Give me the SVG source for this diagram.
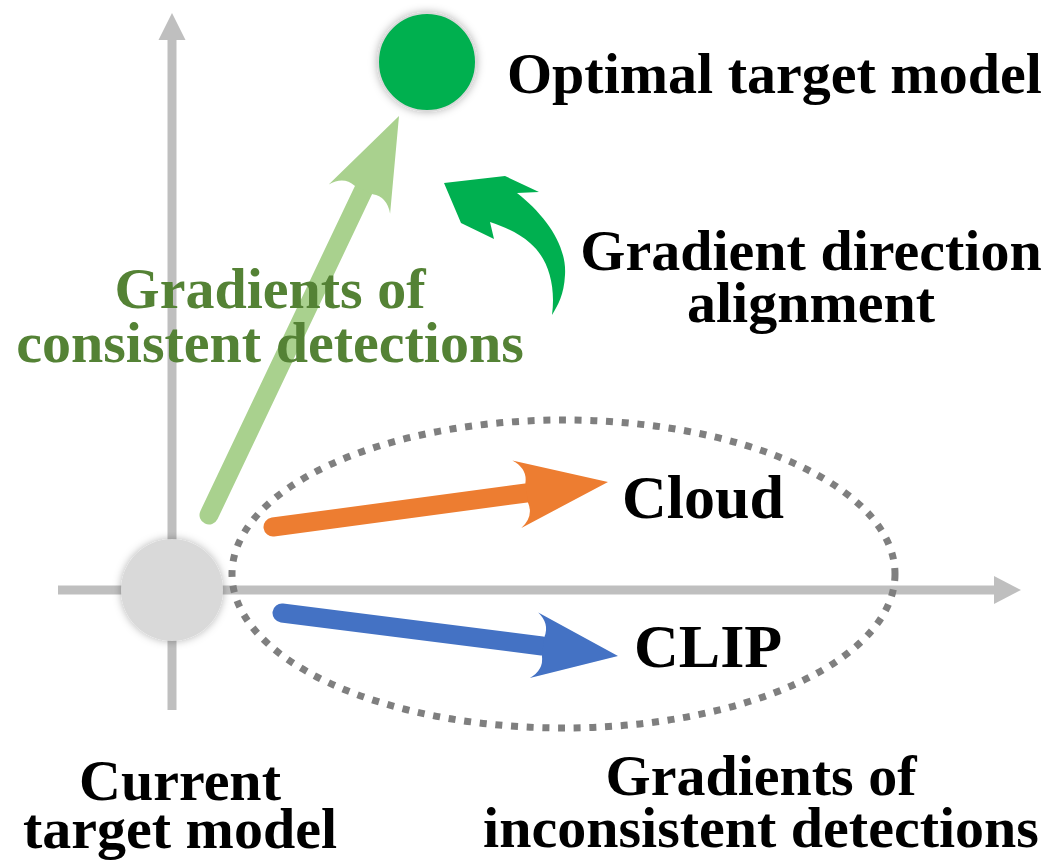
<svg xmlns="http://www.w3.org/2000/svg" width="1055" height="861" viewBox="0 0 1055 861">
  <style>
    .t { font-family: "Liberation Serif", "Times New Roman", serif; font-weight: bold; fill: #000; }
    .g { fill: #548235; }
    .axis { stroke: #bfbfbf; stroke-width: 9; fill: none; }
    .axhead { fill: #bfbfbf; }
    .shaft { fill: none; stroke-width: 19; stroke-linecap: round; }
  </style>
  <defs>
    <filter id="shadow" x="-30%" y="-30%" width="160%" height="160%">
      <feDropShadow dx="0" dy="0" stdDeviation="4" flood-color="#000" flood-opacity="0.3"/>
    </filter>
    <path id="head" d="M0,0 L-92,-34 Q-78,-24 -82,-10 L-82,10 Q-78,24 -92,34 Z"/>
  </defs>
  <rect width="1055" height="861" fill="#fff"/>

  <g id="axes">
    <line class="axis" x1="172" y1="710" x2="172" y2="38"/>
    <polygon class="axhead" points="172,13 158.5,40 185.5,40"/>
    <line class="axis" x1="58" y1="590" x2="997" y2="590"/>
    <polygon class="axhead" points="1021,590 994,576 994,604"/>
  </g>

  <g id="inconsistent-group">
    <ellipse cx="563.5" cy="574" rx="331.5" ry="154" fill="none" stroke="#7f7f7f" stroke-width="7" stroke-dasharray="7 8.7"/>
  </g>

  <g id="current-model">
    <circle cx="172" cy="590" r="51" fill="#d9d9d9" filter="url(#shadow)"/>
  </g>

  <g id="optimal-model">
    <circle cx="427" cy="62" r="49" fill="#00b050" stroke="#d9d9d9" stroke-width="2" filter="url(#shadow)"/>
  </g>

  <g id="connectors">
    <g id="consistent-arrow">
      <line class="shaft" stroke="#a9d18e" x1="209" y1="515" x2="364" y2="189"/>
      <use href="#head" fill="#a9d18e" transform="translate(399,116) rotate(-64.5)"/>
    </g>
    <g id="cloud-arrow">
      <line class="shaft" stroke="#ed7d31" x1="273" y1="527" x2="530" y2="492.5"/>
      <use href="#head" fill="#ed7d31" transform="translate(608,482) rotate(-7.65)"/>
    </g>
    <g id="clip-arrow">
      <line class="shaft" stroke="#4472c4" x1="282" y1="613" x2="542" y2="646"/>
      <use href="#head" fill="#4472c4" transform="translate(618,656) rotate(7.31) scale(0.92,0.97)"/>
    </g>
    <g id="alignment-arrow">
      <path fill="#00b050" d="M444,183 L505,176 L539,192 L517,193 C545,215 567,245 565,275 C564,295 558,305 552,315 C556,285 548,258 530,243 C520,234 505,227 490,222 L494,239 L461,223 Z"/>
    </g>
  </g>

  <g id="labels">
    <text class="t" x="507" y="93" font-size="58">Optimal target model</text>
    <text class="t" font-size="58" text-anchor="middle"><tspan x="811" y="270">Gradient direction</tspan><tspan x="811" y="322">alignment</tspan></text>
    <text class="t g" font-size="58" text-anchor="middle"><tspan x="270" y="308">Gradients of</tspan><tspan x="270" y="362">consistent detections</tspan></text>
    <text class="t" x="622" y="518" font-size="62">Cloud</text>
    <text class="t" x="634" y="667" font-size="62">CLIP</text>
    <text class="t" font-size="58" text-anchor="middle"><tspan x="180" y="800">Current</tspan><tspan x="180" y="848">target model</tspan></text>
    <text class="t" font-size="58" text-anchor="middle"><tspan x="761" y="795">Gradients of</tspan><tspan x="761" y="847">inconsistent detections</tspan></text>
  </g>
</svg>
